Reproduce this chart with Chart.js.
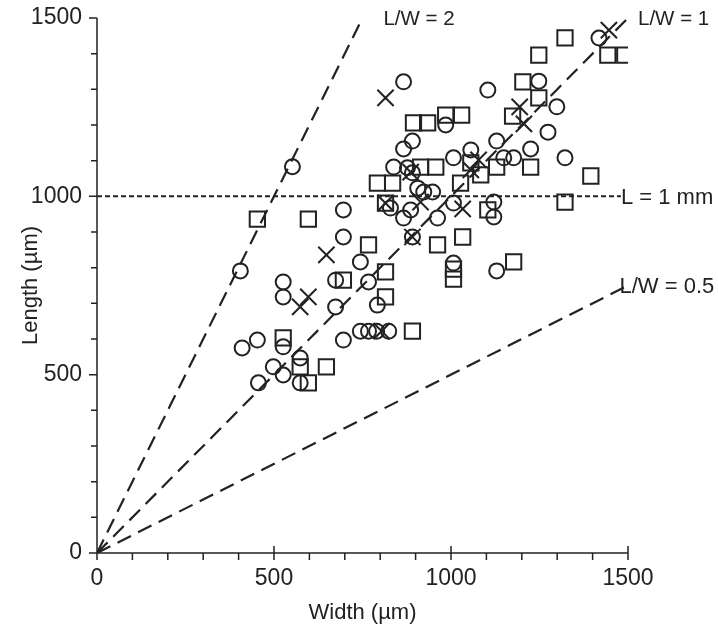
<!DOCTYPE html>
<html>
<head>
<meta charset="utf-8">
<script src="https://cdn.jsdelivr.net/npm/chart.js@4"></script>
<style>
  body { margin: 0; background: #fff; }
  #wrap { width: 718px; height: 635px; }
</style>
</head>
<body>
<div id="wrap"><canvas id="lwChart" width="718" height="635"></canvas></div>
<script>
// width / length of each particle (µm)
const circleW = [405, 552, 696, 696, 744, 674, 767, 526, 526, 674, 792, 410, 453, 526, 696,
  744, 767, 790, 824, 498, 526, 574, 456, 574, 866, 891, 866, 985, 1007, 1056, 838, 877, 891,
  906, 923, 948, 829, 886, 866, 962, 1007, 891, 1007, 1104, 1129, 1225, 1149, 1177, 1274, 1299,
  1248, 1322, 1418, 1121, 1121, 1129];
const circleL = [791, 1083, 962, 886, 816, 765, 760, 760, 718, 690, 695, 575, 597, 578, 597,
  622, 622, 622, 622, 522, 499, 547, 477, 477, 1321, 1155, 1133, 1200, 1108, 1130, 1082, 1080, 1066,
  1023, 1012, 1012, 967, 962, 939, 939, 981, 886, 813, 1298, 1155, 1133, 1108, 1108, 1180, 1251,
  1323, 1108, 1444, 984, 942, 791];

const squareW = [453, 597, 767, 696, 815, 815, 526, 574, 648, 597, 891, 815, 792, 835, 914,
  957, 894, 934, 985, 1030, 1056, 1084, 1027, 1129, 1225, 1104, 1033, 962, 1007, 1007, 1177,
  1322, 1395, 1174, 1248, 1203, 1248, 1322, 1443, 1491];
const squareL = [936, 936, 864, 765, 718, 788, 603, 522, 522, 477, 622, 981, 1037, 1037, 1082,
  1082, 1206, 1206, 1228, 1228, 1094, 1060, 1037, 1082, 1082, 962, 886, 864, 796, 768, 816,
  984, 1057, 1225, 1276, 1321, 1396, 1444, 1396, 1396];

const crossW = [815, 597, 574, 648, 815, 891, 1033, 914, 886, 1078, 1194, 1206, 1446, 804, 1056];
const crossL = [1276, 718, 690, 836, 981, 886, 965, 984, 1068, 1102, 1251, 1203, 1466, 622, 1074];

// reference lines: L/W = 2, 1, 0.5 and L = 1 mm
const ratioLines = [
  { label: 'L/W = 2', w: [0, 750], l: [0, 1500] },
  { label: 'L/W = 1', w: [0, 1500], l: [0, 1500] },
  { label: 'L/W = 0.5', w: [0, 1500], l: [0, 750] },
];
const oneMmW = [0, 1480];
const oneMmL = [1000, 1000];

const axisTicks = [0, 500, 1000, 1500];

const INK = '#222';
const FONT = 'Liberation Sans, Arial, sans-serif';

function toPoints(xs, ys) {
  return xs.map((x, i) => ({ x: x, y: ys[i] }));
}

// minor/major tick marks + axis lines
const axisDecor = {
  id: 'axisDecor',
  afterDraw(chart) {
    const { ctx, scales: { x, y } } = chart;
    const x0 = x.getPixelForValue(0);
    const y0 = y.getPixelForValue(0);
    ctx.save();
    ctx.strokeStyle = INK;
    ctx.lineWidth = 1.5;
    ctx.beginPath();
    ctx.moveTo(x0, y.getPixelForValue(1500));
    ctx.lineTo(x0, y0);
    ctx.lineTo(x.getPixelForValue(1500), y0);
    for (let v = 0; v <= 1500; v += 100) {
      const major = v % 500 === 0;
      const py = y.getPixelForValue(v);
      ctx.moveTo(x0 - (major ? 8 : 6), py);
      ctx.lineTo(x0, py);
      const px = x.getPixelForValue(v);
      ctx.moveTo(px, y0 - (major ? 7 : 0));
      ctx.lineTo(px, y0 + 7);
    }
    ctx.stroke();
    ctx.restore();
  },
};

// text labels for the reference lines
const lineLabels = {
  id: 'lineLabels',
  afterDraw(chart) {
    const { ctx, scales: { x, y } } = chart;
    ctx.save();
    ctx.fillStyle = INK;
    ctx.textBaseline = 'middle';
    ctx.textAlign = 'left';
    ctx.font = '20.5px ' + FONT;
    ctx.fillText('L/W = 2', x.getPixelForValue(809), y.getPixelForValue(1500) + 1);
    ctx.fillText('L/W = 1', x.getPixelForValue(1500) + 10, y.getPixelForValue(1500) + 1);
    ctx.font = '22px ' + FONT;
    ctx.fillText('L = 1 mm', x.getPixelForValue(1480), y.getPixelForValue(1000) + 2);
    ctx.fillText('L/W = 0.5', x.getPixelForValue(1476), y.getPixelForValue(745));
    ctx.restore();
  },
};

const markerBase = {
  borderColor: INK,
  backgroundColor: 'rgba(0,0,0,0)',
  pointBorderWidth: 2,
  pointBackgroundColor: 'rgba(0,0,0,0)',
  pointBorderColor: INK,
  showLine: false,
};

const datasets = [
  { ...markerBase, label: 'circles', data: toPoints(circleW, circleL), pointStyle: 'circle', pointRadius: 7.5 },
  { ...markerBase, label: 'squares', data: toPoints(squareW, squareL), pointStyle: 'rect', pointRadius: 10.8 },
  { ...markerBase, label: 'crosses', data: toPoints(crossW, crossL), pointStyle: 'crossRot', pointRadius: 11.5 },
];

ratioLines.forEach((r) => {
  datasets.push({
    label: r.label,
    data: toPoints(r.w, r.l),
    showLine: true,
    borderColor: INK,
    borderWidth: 2.2,
    borderDash: [15, 8],
    pointRadius: 0,
  });
});
datasets.push({
  label: 'L = 1 mm',
  data: toPoints(oneMmW, oneMmL),
  showLine: true,
  borderColor: INK,
  borderWidth: 2,
  borderDash: [5, 3],
  pointRadius: 0,
});

new Chart(document.getElementById('lwChart'), {
  type: 'scatter',
  data: { datasets: datasets },
  plugins: [axisDecor, lineLabels],
  options: {
    responsive: false,
    animation: false,
    devicePixelRatio: 1,
    layout: { padding: { top: 18, right: 90, bottom: 0, left: 0 } },
    plugins: {
      legend: { display: false },
      tooltip: { enabled: false },
    },
    scales: {
      x: {
        type: 'linear',
        min: 0,
        max: 1500,
        afterBuildTicks: (scale) => { scale.ticks = axisTicks.map((v) => ({ value: v })); },
        afterFit: (scale) => {
          scale.height = 82;
          scale.paddingLeft = 0;
          scale.paddingRight = 0;
        },
        grid: { display: false },
        border: { display: false },
        ticks: {
          color: INK,
          padding: 4,
          maxRotation: 0,
          font: { family: FONT, size: 23 },
          callback: (v) => String(v),
        },
        title: {
          display: true,
          text: 'Width (µm)',
          color: INK,
          padding: { top: 0, bottom: 9 },
          font: { family: FONT, size: 22 },
        },
      },
      y: {
        type: 'linear',
        min: 0,
        max: 1500,
        afterBuildTicks: (scale) => { scale.ticks = axisTicks.map((v) => ({ value: v })); },
        afterFit: (scale) => {
          scale.width = 97;
          scale.paddingTop = 0;
          scale.paddingBottom = 0;
        },
        grid: { display: false },
        border: { display: false },
        ticks: {
          color: INK,
          padding: 7,
          font: { family: FONT, size: 23 },
          callback: (v) => String(v),
        },
        title: {
          display: true,
          text: 'Length (µm)',
          color: INK,
          padding: { top: 18, bottom: 0 },
          font: { family: FONT, size: 22 },
        },
      },
    },
  },
});
</script>
</body>
</html>
